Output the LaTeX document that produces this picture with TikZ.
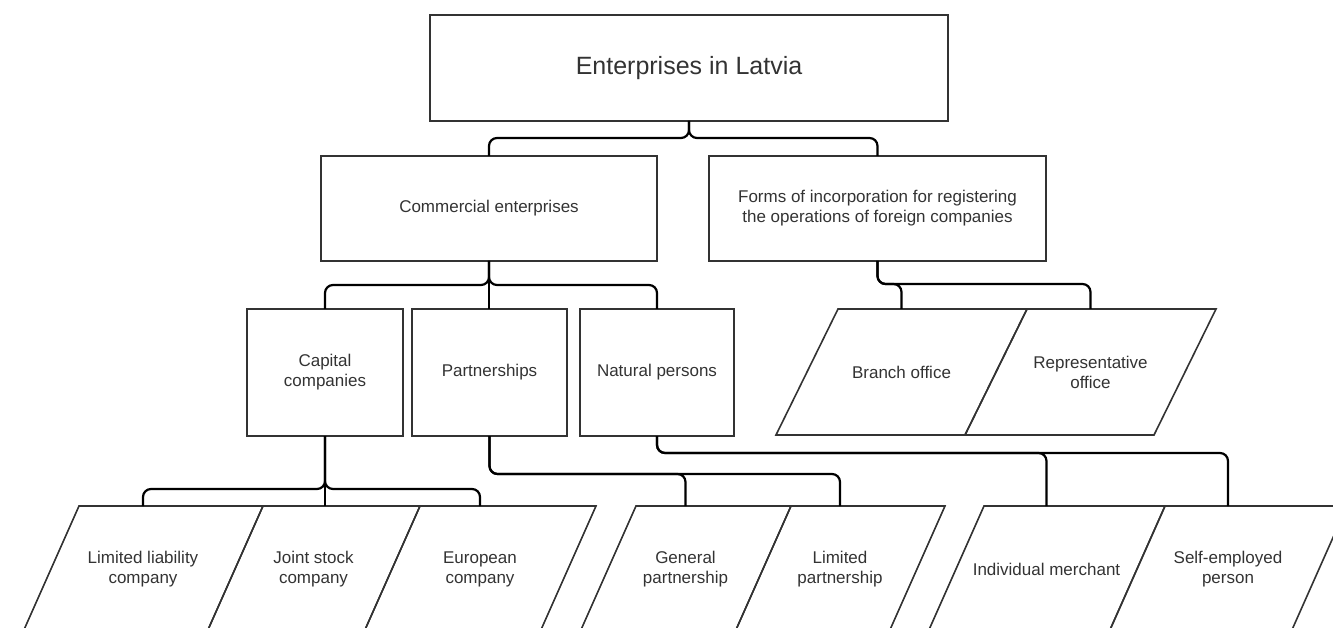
\documentclass[tikz,border=0pt]{standalone}
\usepackage{fontspec}
\setmainfont{Liberation Sans}
\definecolor{boxgray}{HTML}{333333}
\begin{document}
\begin{tikzpicture}[x=1pt,y=-1pt,
  box/.style={draw=boxgray,line width=1.6pt,text=boxgray,align=center,
    font=\fontsize{17}{20}\selectfont,inner sep=0pt,outer sep=0pt},
  para/.style={box,draw=none,minimum height=126},
  paraline/.style={draw=boxgray,line width=1.6pt,line join=miter},
  link/.style={line width=2.2pt,rounded corners=8pt}]
\useasboundingbox (0,0) rectangle (1333,628);
\clip (0,0) rectangle (1333,628);
\node[box,minimum width=518,minimum height=106,font=\fontsize{25}{30}\selectfont] (top) at (689,68) {Enterprises in Latvia};
\node[box,minimum width=336,minimum height=105] (comm) at (489,208.5) {Commercial enterprises};
\node[box,minimum width=337,minimum height=105] (forms) at (877.5,208.5) {Forms of incorporation for registering\\the operations of foreign companies};
\node[box,minimum width=156,minimum height=127] (capital) at (325,372.5) {Capital\\companies};
\node[box,minimum width=155,minimum height=127] (partner) at (489.5,372.5) {Partnerships};
\node[box,minimum width=154,minimum height=127] (natural) at (657,372.5) {Natural persons};
\node[para,minimum width=251] (branch) at (901.5,372) {Branch office};
\node[para,minimum width=251] (repr) at (1090.5,372) {Representative\\office};
\node[para,minimum width=240] (llc) at (143,569) {Limited liability\\company};
\node[para,minimum width=213] (jsc) at (313.5,569) {Joint stock\\company};
\node[para,minimum width=232] (euro) at (480,569) {European\\company};
\node[para,minimum width=211] (gen) at (685.5,569) {General\\partnership};
\node[para,minimum width=210] (lim) at (840,569) {Limited\\partnership};
\node[para,minimum width=237] (ind) at (1046.5,569) {Individual merchant};
\node[para,minimum width=238] (selfemp) at (1228,569) {Self-employed\\person};
\foreach \n/\s in {branch/62,repr/62,llc/56,jsc/56,euro/56,gen/56,lim/56,ind/56,selfemp/56}
  \draw[paraline] ([xshift=\s]\n.north west) -- (\n.north east)
    -- ([xshift=-\s]\n.south east) -- (\n.south west) -- cycle;
\coordinate (topbus) at (0,138);
\coordinate (commbus) at (0,285);
\coordinate (formsbus) at (0,284);
\coordinate (capbus) at (0,489);
\coordinate (partbus) at (0,474);
\coordinate (natbus) at (0,453);
\draw[link] (top.south) -- (top.south |- topbus) -| (comm.north);
\draw[link] (top.south) -- (top.south |- topbus) -| (forms.north);
\draw[link] (comm.south) -- (comm.south |- commbus) -| (capital.north);
\draw[link] (comm.south) -- (comm.south |- partner.north);
\draw[link] (comm.south) -- (comm.south |- commbus) -| (natural.north);
\draw[link] (forms.south) -- (forms.south |- formsbus) -| (branch.north);
\draw[link] (forms.south) -- (forms.south |- formsbus) -| (repr.north);
\draw[link] (capital.south) -- (capital.south |- capbus) -| (llc.north);
\draw[link] (capital.south) -- (capital.south |- jsc.north);
\draw[link] (capital.south) -- (capital.south |- capbus) -| (euro.north);
\draw[link] (partner.south) -- (partner.south |- partbus) -| (gen.north);
\draw[link] (partner.south) -- (partner.south |- partbus) -| (lim.north);
\draw[link] (natural.south) -- (natural.south |- natbus) -| (ind.north);
\draw[link] (natural.south) -- (natural.south |- natbus) -| (selfemp.north);
\end{tikzpicture}
\end{document}
